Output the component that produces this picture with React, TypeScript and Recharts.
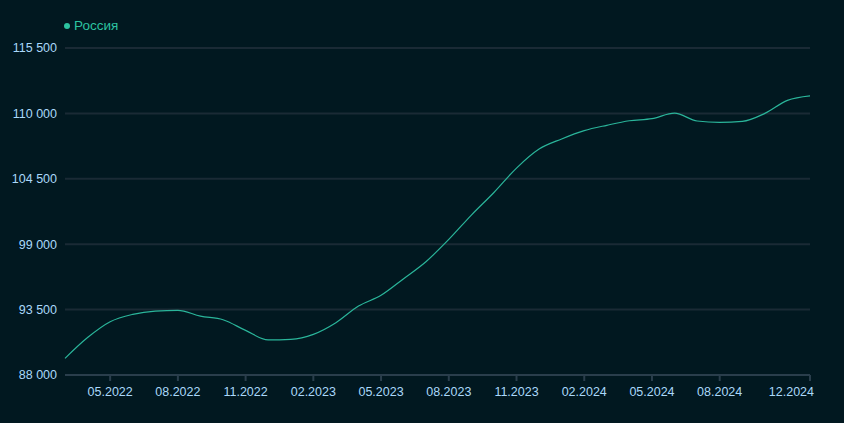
import React from 'react';
import {
  LineChart,
  Line,
  XAxis,
  YAxis,
  CartesianGrid,
  Legend,
} from 'recharts';

document.body.style.margin = '0';

// Monthly values, 03.2022 – 12.2024
const MONTHS = [
  '03.2022', '04.2022', '05.2022', '06.2022', '07.2022', '08.2022', '09.2022', '10.2022', '11.2022', '12.2022',
  '01.2023', '02.2023', '03.2023', '04.2023', '05.2023', '06.2023', '07.2023', '08.2023', '09.2023', '10.2023', '11.2023', '12.2023',
  '01.2024', '02.2024', '03.2024', '04.2024', '05.2024', '06.2024', '07.2024', '08.2024', '09.2024', '10.2024', '11.2024', '12.2024',
];

const RUSSIA = [
  89400, 91150, 92480, 93100, 93380, 93440, 92950, 92650, 91750, 90950,
  91000, 91420, 92400, 93800, 94700, 96100, 97550, 99400, 101450, 103350, 105400, 107000,
  107850, 108550, 109000, 109380, 109560, 110020, 109360, 109250, 109330, 110000, 111100, 111480,
];

const X_TICKS = ['05.2022', '08.2022', '11.2022', '02.2023', '05.2023', '08.2023', '11.2023', '02.2024', '05.2024', '08.2024', '12.2024'];
const Y_TICKS = [88000, 93500, 99000, 104500, 110000, 115500];

const data = MONTHS.map((m, i) => ({ month: m, russia: RUSSIA[i] }));

const LINE_COLOR = '#2ab59a';
const BG = '#011820';
const FONT = '"Liberation Sans", Arial, sans-serif';
const TICK_FILL = '#aad8fa';

const fmt = (v: number) => v.toLocaleString('ru-RU').replace(/\s/g, ' ');

// last label is pulled inside the chart, like the original
const XTick = ({ x, y, payload }: { x?: number; y?: number; payload?: { value: string } }) => {
  const last = payload?.value === X_TICKS[X_TICKS.length - 1];
  return (
    <text
      x={last ? (x ?? 0) + 4 : x}
      y={(y ?? 0) + 4}
      dy="0.71em"
      textAnchor={last ? 'end' : 'middle'}
      fill={TICK_FILL}
      fontSize={12.5}
      fontFamily={FONT}
    >
      {payload?.value}
    </text>
  );
};

const LegendContent = () => (
  <div style={{ display: 'flex', alignItems: 'center', fontFamily: FONT, fontSize: 13.5, color: '#2cc3a0' }}>
    <span style={{ width: 6, height: 6, borderRadius: 3, background: '#2cc3a0', marginRight: 4, display: 'inline-block' }} />
    Россия
  </div>
);

export default function App() {
  return (
    <div style={{ width: 844, height: 423, background: BG }}>
      <LineChart width={844} height={423} data={data} margin={{ top: 26, right: 34, bottom: 0, left: 5 }}>
        <CartesianGrid vertical={false} stroke="#1a2a35" strokeWidth={2} />
        <XAxis
          dataKey="month"
          ticks={X_TICKS}
          interval={0}
          stroke="#2a3e4c"
          strokeWidth={2}
          tick={<XTick />}
          height={48}
        />
        <YAxis
          domain={[88000, 115500]}
          ticks={Y_TICKS}
          axisLine={false}
          tickLine={false}
          width={60}
          tickFormatter={fmt}
          tick={{ fill: TICK_FILL, fontSize: 12.5, fontFamily: FONT }}
        />
        <Legend
          verticalAlign="top"
          align="left"
          height={22}
          wrapperStyle={{ top: 18, left: 64 }}
          content={<LegendContent />}
        />
        <Line
          type="monotone"
          dataKey="russia"
          name="Россия"
          stroke={LINE_COLOR}
          strokeWidth={1.2}
          dot={false}
          isAnimationActive={false}
        />
      </LineChart>
    </div>
  );
}
